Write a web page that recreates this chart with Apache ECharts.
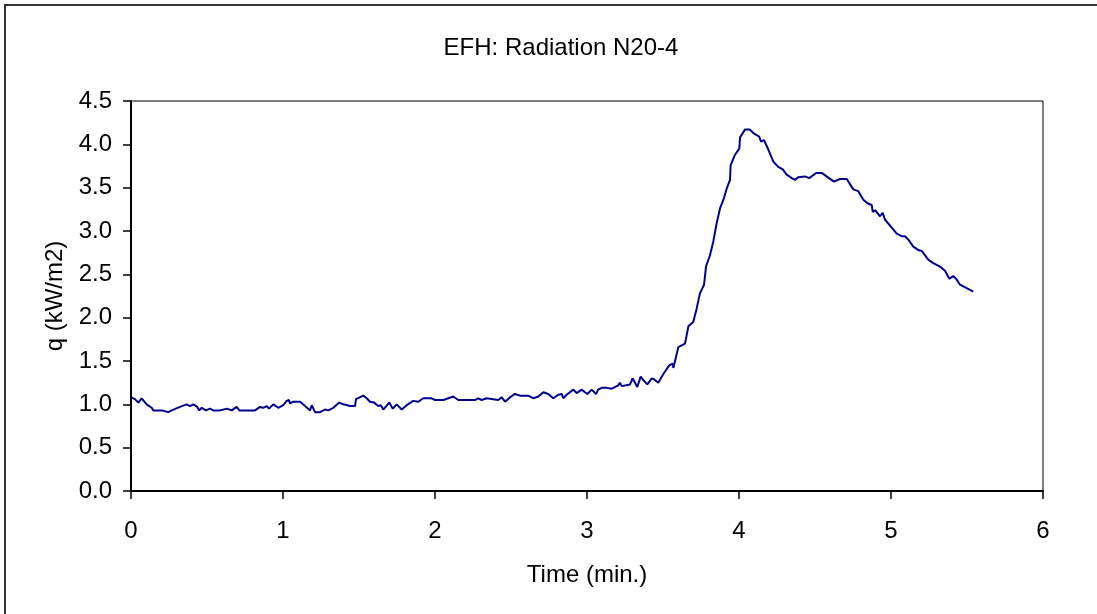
<!DOCTYPE html>
<html>
<head>
<meta charset="utf-8">
<script src="https://cdn.jsdelivr.net/npm/echarts@6/dist/echarts.min.js"></script>
<style>
html,body{margin:0;padding:0;background:#fff;}
#chart{width:1097px;height:614px;}
</style>
</head>
<body>
<div id="chart"></div>
<script>
const times = [0.00,0.026,0.048,0.070,0.103,0.136,0.147,0.202,0.213,0.245,0.268,0.322,0.366,0.388,0.410,0.436,0.449,0.465,0.493,0.520,0.541,0.586,0.630,0.663,0.695,0.713,0.816,0.849,0.870,0.893,0.908,0.936,0.969,1.002,1.024,1.039,1.046,1.068,1.112,1.145,1.178,1.189,1.211,1.243,1.276,1.298,1.331,1.370,1.397,1.441,1.474,1.480,1.528,1.551,1.572,1.599,1.627,1.643,1.660,1.699,1.722,1.748,1.781,1.814,1.857,1.890,1.923,1.978,2.000,2.055,2.120,2.153,2.263,2.274,2.285,2.307,2.340,2.351,2.416,2.439,2.461,2.493,2.526,2.559,2.614,2.647,2.680,2.713,2.745,2.778,2.811,2.834,2.844,2.866,2.910,2.932,2.965,2.987,3.002,3.031,3.059,3.074,3.097,3.130,3.140,3.163,3.173,3.206,3.217,3.228,3.239,3.283,3.300,3.316,3.331,3.353,3.371,3.397,3.426,3.441,3.469,3.480,3.502,3.541,3.564,3.568,3.601,3.612,3.645,3.667,3.699,3.722,3.743,3.770,3.783,3.809,3.831,3.853,3.875,3.901,3.919,3.941,3.945,3.974,4.002,4.007,4.039,4.072,4.094,4.133,4.145,4.164,4.193,4.226,4.258,4.288,4.314,4.347,4.368,4.390,4.434,4.462,4.507,4.544,4.576,4.625,4.664,4.709,4.719,4.752,4.785,4.818,4.845,4.873,4.880,4.895,4.928,4.945,4.961,5.038,5.070,5.092,5.114,5.147,5.180,5.202,5.245,5.278,5.322,5.355,5.384,5.410,5.428,5.454,5.498,5.541];
const qValues = [1.08,1.06,1.02,1.07,1.00,0.96,0.93,0.93,0.91,0.91,0.93,0.97,1.00,0.98,1.00,0.97,0.93,0.96,0.93,0.95,0.93,0.93,0.95,0.93,0.97,0.93,0.93,0.97,0.96,0.98,0.95,1.00,0.96,0.99,1.04,1.05,1.01,1.03,1.03,0.98,0.93,0.99,0.91,0.91,0.94,0.93,0.96,1.02,1.00,0.98,0.98,1.06,1.10,1.07,1.03,1.02,0.98,0.99,0.94,1.02,0.95,1.00,0.94,0.99,1.04,1.03,1.07,1.07,1.05,1.05,1.09,1.05,1.05,1.03,1.07,1.05,1.07,1.05,1.05,1.08,1.03,1.08,1.12,1.10,1.10,1.07,1.09,1.14,1.12,1.07,1.11,1.12,1.07,1.11,1.17,1.13,1.17,1.14,1.12,1.17,1.12,1.17,1.19,1.19,1.17,1.18,1.17,1.22,1.25,1.21,1.23,1.23,1.30,1.25,1.20,1.32,1.28,1.23,1.30,1.29,1.25,1.26,1.35,1.45,1.47,1.42,1.66,1.68,1.70,1.90,1.95,2.11,2.28,2.38,2.59,2.72,2.88,3.09,3.26,3.38,3.49,3.59,3.76,3.88,3.95,4.08,4.17,4.17,4.13,4.09,4.03,4.05,3.94,3.80,3.74,3.71,3.65,3.61,3.59,3.62,3.63,3.61,3.67,3.67,3.63,3.57,3.60,3.60,3.61,3.48,3.46,3.36,3.32,3.30,3.22,3.24,3.17,3.21,3.13,2.97,2.94,2.94,2.90,2.82,2.78,2.77,2.67,2.63,2.59,2.54,2.45,2.48,2.45,2.38,2.34,2.30];
const xTicks = [0,1,2,3,4,5,6];
const yTicks = [0.0,0.5,1.0,1.5,2.0,2.5,3.0,3.5,4.0,4.5];

const chart = echarts.init(document.getElementById('chart'), null, {renderer:'canvas'});
const font = '"Liberation Sans", Arial, sans-serif';
const seriesData = times.map((t,i)=>[t,qValues[i]]);
chart.setOption({
  animation:false,
  backgroundColor:'#ffffff',
  textStyle:{fontFamily:font},
  title:{text:'EFH: Radiation N20-4',left:556,top:31,textAlign:'center',
    textStyle:{fontFamily:font,fontSize:24,fontWeight:'normal',color:'#000'}},
  graphic:[{type:'rect',shape:{x:5,y:5,width:1200,height:700},
    style:{fill:'none',stroke:'#333',lineWidth:2},silent:true}],
  grid:{left:131,right:54,top:101,bottom:123,show:true,borderColor:'#000',borderWidth:1,backgroundColor:'transparent'},
  xAxis:{type:'value',min:xTicks[0],max:xTicks[xTicks.length-1],interval:1,
    name:'Time (min.)',nameLocation:'middle',nameGap:72,
    nameTextStyle:{fontFamily:font,fontSize:24,color:'#000'},
    axisLine:{show:true,onZero:false,lineStyle:{color:'#000',width:2}},
    axisTick:{show:true,inside:false,length:8,lineStyle:{color:'#000',width:1.5}},
    axisLabel:{fontFamily:font,fontSize:24,color:'#000',margin:28},
    splitLine:{show:false}},
  yAxis:{type:'value',min:yTicks[0],max:yTicks[yTicks.length-1],interval:0.5,
    name:'q (kW/m2)',nameLocation:'middle',nameGap:62,nameRotate:90,
    nameTextStyle:{fontFamily:font,fontSize:24,color:'#000'},
    axisLine:{show:true,onZero:false,lineStyle:{color:'#000',width:2}},
    axisTick:{show:true,inside:false,length:8,lineStyle:{color:'#000',width:1.5}},
    axisLabel:{fontFamily:font,fontSize:24,color:'#000',margin:19,formatter:v=>v.toFixed(1)},
    splitLine:{show:false}},
  series:[{type:'line',data:seriesData,showSymbol:false,symbol:'none',
    lineStyle:{color:'#00008B',width:2},itemStyle:{color:'#00008B'}}]
});
</script>
</body>
</html>
